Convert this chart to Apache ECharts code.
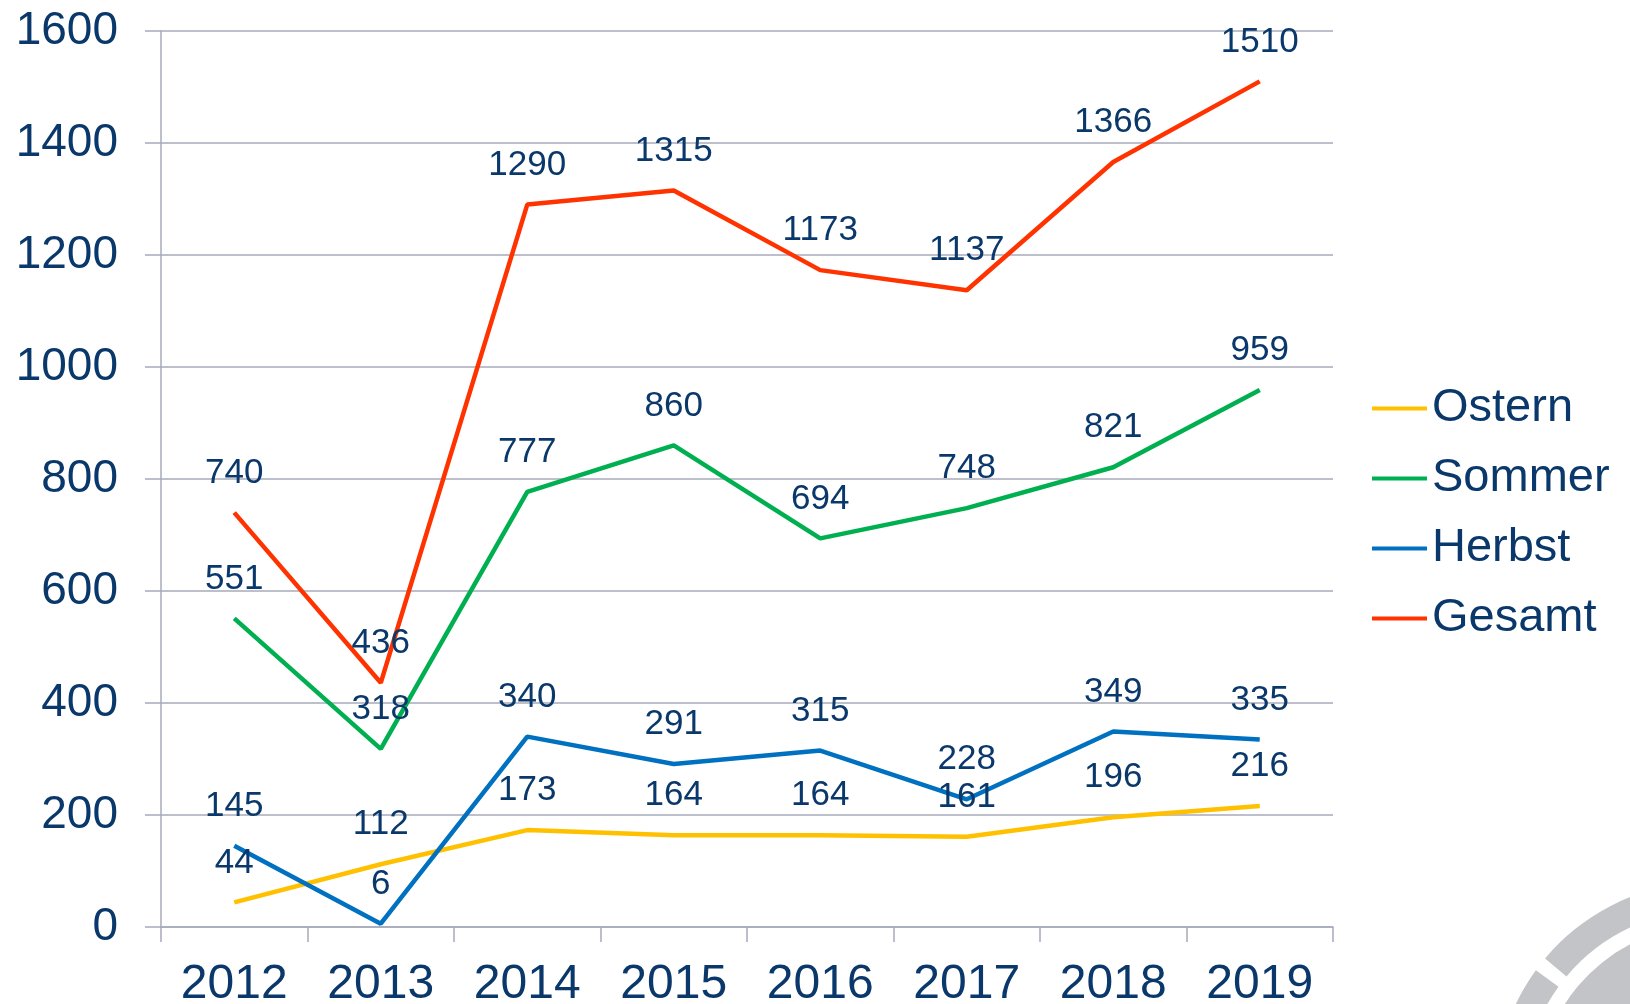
<!DOCTYPE html>
<html lang="de">
<head>
    <meta charset="UTF-8">
    <title>Teilnehmer</title>
    <script type="text/javascript" src="https://cdn.jsdelivr.net/npm/echarts@6/dist/echarts.min.js"></script>
    <style>
        html, body { margin: 0; padding: 0; background: #fff; }
    </style>
</head>
<body>
<div id="chart" style="width:1630px;height:1004px"></div>
<script type="text/javascript">
    var years = ['2012', '2013', '2014', '2015', '2016', '2017', '2018', '2019'];
    var ostern = [44, 112, 173, 164, 164, 161, 196, 216];
    var sommer = [551, 318, 777, 860, 694, 748, 821, 959];
    var herbst = [145, 6, 340, 291, 315, 228, 349, 335];
    var gesamt = [740, 436, 1290, 1315, 1173, 1137, 1366, 1510];

    var navy = '#0a386b';
    var grid = '#a7abba';
    var font = 'Liberation Sans, Arial, sans-serif';

    function makeLine(name, data, color) {
        return {
            name: name,
            type: 'line',
            data: data,
            symbol: 'circle',
            symbolSize: 0,
            lineStyle: { color: color, width: 4.5 },
            itemStyle: { color: color },
            label: {
                show: true,
                position: 'top',
                distance: 22,
                fontSize: 35,
                fontFamily: font,
                color: navy
            }
        };
    }

    var myChart = echarts.init(document.getElementById('chart'));
    myChart.setOption({
        animation: false,
        grid: { left: 161, right: 297, top: 31, bottom: 77, containLabel: false, outerBoundsMode: 'none' },
        legend: {
            orient: 'vertical',
            left: 1367,
            top: 380,
            icon: 'rect',
            itemWidth: 55,
            itemHeight: 4,
            itemGap: 23,
            textStyle: { fontSize: 47, lineHeight: 46, color: navy, fontFamily: font },
            data: ['Ostern', 'Sommer', 'Herbst', 'Gesamt']
        },
        xAxis: {
            type: 'category',
            data: years,
            boundaryGap: true,
            axisLine: { lineStyle: { color: grid, width: 1.5 } },
            axisTick: { show: true, length: 15, lineStyle: { color: grid, width: 1.5 } },
            axisLabel: { fontSize: 48, color: navy, fontFamily: font, margin: 34 }
        },
        yAxis: {
            type: 'value',
            min: 0,
            max: 1600,
            interval: 200,
            axisLine: { show: true, lineStyle: { color: grid, width: 1.5 } },
            axisTick: { show: true, length: 16, lineStyle: { color: grid, width: 1.5 } },
            splitLine: { lineStyle: { color: grid, width: 1.5 } },
            axisLabel: {
                fontSize: 46, color: navy, fontFamily: font, margin: 43,
                formatter: function (v) { return String(v); }
            }
        },
        // logo fragment in the corner
        graphic: [
            { type: 'sector', z: -1, shape: { cx: 1709, cy: 1096, r0: 186, r: 214, startAngle: 220 * Math.PI / 180, endAngle: 2 * Math.PI }, style: { fill: '#c3c4c7' } },
            { type: 'sector', z: -1, shape: { cx: 1709, cy: 1096, r0: 186, r: 214, startAngle: 130 * Math.PI / 180, endAngle: 216 * Math.PI / 180 }, style: { fill: '#c3c4c7' } },
            { type: 'sector', z: -1, shape: { cx: 1709, cy: 1096, r0: 100, r: 171, startAngle: 130 * Math.PI / 180, endAngle: 2 * Math.PI }, style: { fill: '#c3c4c7' } }
        ],
        series: [
            makeLine('Ostern', ostern, '#ffc000'),
            makeLine('Sommer', sommer, '#00b050'),
            makeLine('Herbst', herbst, '#0070c0'),
            makeLine('Gesamt', gesamt, '#ff3300')
        ]
    });
</script>
</body>
</html>
